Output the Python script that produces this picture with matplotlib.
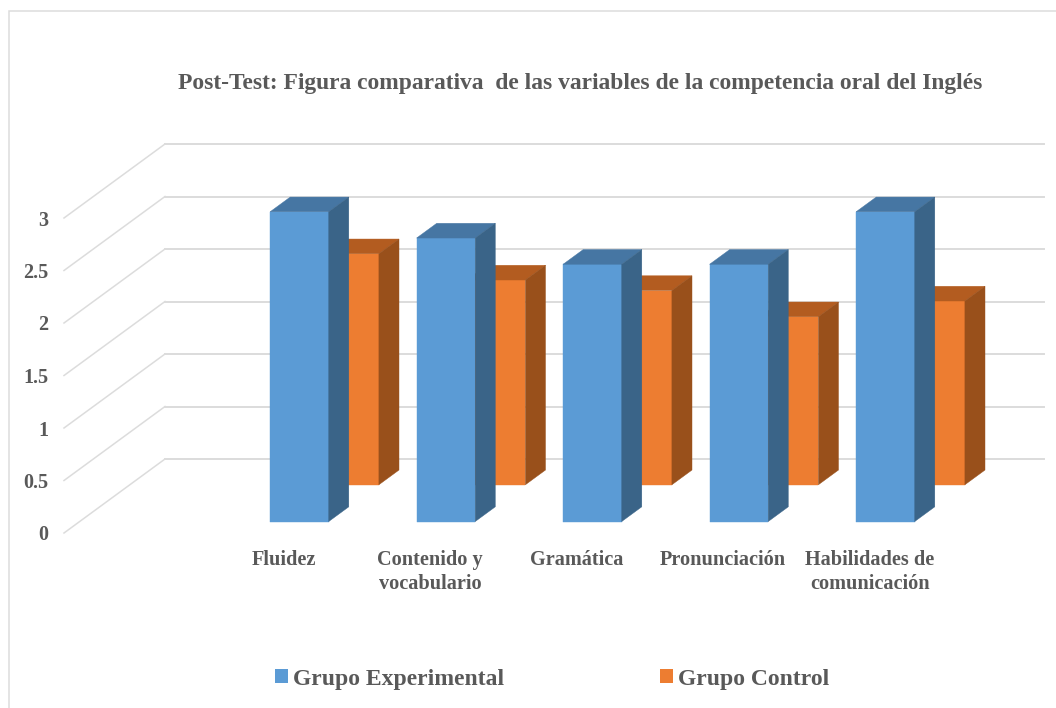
import matplotlib
matplotlib.use("Agg")
import matplotlib.pyplot as plt
from matplotlib.patches import Polygon, Rectangle, Patch

categories = ["Fluidez", "Contenido y\nvocabulario", "Gramática", "Pronunciación", "Habilidades de\ncomunicación"]
grupo_experimental = [2.95, 2.70, 2.45, 2.45, 2.95]
grupo_control = [2.20, 1.95, 1.85, 1.60, 1.75]
y_ticks = [0, 0.5, 1, 1.5, 2, 2.5, 3]
y_labels = ["0", "0.5", "1", "1.5", "2", "2.5", "3"]
title = "Post-Test: Figura comparativa  de las variables de la competencia oral del Inglés"

W, H = 1056, 708
FONT = "Liberation Serif"
TXT = "#595959"
GRID = "#dcdcdc"
DEPTH_X = 101 / 146.5
DEPTH_Y = 74 / 105
BAR_W = 0.40

fig = plt.figure(figsize=(W / 100, H / 100), dpi=100, facecolor="white")
fig.add_artist(Rectangle((9 / W, -0.05), 1.1, 1.05 - 11 / H, transform=fig.transFigure,
                         fill=False, edgecolor=GRID, linewidth=1.1))
ax = fig.add_axes([64 / W, 1 - 533 / H, 879 / W, 315 / H])
ax.set_xlim(0, 6)
ax.set_ylim(0, 3)
ax.patch.set_alpha(0)
for s in ax.spines.values():
    s.set_visible(False)


def proj(x, v, z):
    return (x + z * DEPTH_X, v + z * DEPTH_Y)


for v in y_ticks:
    ax.plot(*zip(proj(0, v, 0), proj(0, v, 1)), color=GRID, lw=1.1, clip_on=False, zorder=1)
    ax.plot(*zip(proj(0, v, 1), proj(6, v, 1)), color=GRID, lw=1.4, clip_on=False, zorder=1)


def bar3d(xc, v, z0, z1, front, top, side, zo):
    l, r = xc - BAR_W / 2, xc + BAR_W / 2
    faces = [
        ([proj(l, 0, z0), proj(r, 0, z0), proj(r, v, z0), proj(l, v, z0)], front),
        ([proj(l, v, z0), proj(r, v, z0), proj(r, v, z1), proj(l, v, z1)], top),
        ([proj(r, 0, z0), proj(r, 0, z1), proj(r, v, z1), proj(r, v, z0)], side),
    ]
    for pts, c in faces:
        ax.add_patch(Polygon(pts, closed=True, facecolor=c, edgecolor=c, lw=0.3, clip_on=False, zorder=zo))


xs = [i + 1.5 for i in range(len(categories))]
for x, v in zip(xs, grupo_control):
    bar3d(x, v, 0.652, 0.851, "#ED7D31", "#B35C20", "#99501B", 2)
for x, v in zip(xs, grupo_experimental):
    bar3d(x, v, 0.155, 0.354, "#5B9BD5", "#4676A3", "#3A6488", 3)

ax.set_yticks(y_ticks, y_labels, fontfamily=FONT, fontweight="bold", fontsize=14.5, color=TXT)
ax.set_xticks(xs, categories, fontfamily=FONT, fontweight="bold", fontsize=14.6, color=TXT, linespacing=1.3)
ax.tick_params(axis="y", length=0, pad=11.5)
ax.tick_params(axis="x", length=0, pad=12)

fig.text(580 / W, 1 - 84 / H, title, ha="center", va="center", fontfamily=FONT,
         fontweight="bold", fontsize=16.9, color=TXT)

handles = [Patch(facecolor="#5B9BD5", label="Grupo Experimental"),
           Patch(facecolor="#ED7D31", label="Grupo Control")]
fig.legend(handles=handles, loc="center", bbox_to_anchor=(552 / W, 1 - 679 / H), ncol=2, frameon=False,
           prop={"family": FONT, "weight": "bold", "size": 17}, labelcolor=TXT,
           handlelength=0.55, handleheight=0.55, handletextpad=0.22, columnspacing=6.6)

fig.savefig("out.png", dpi=100)
